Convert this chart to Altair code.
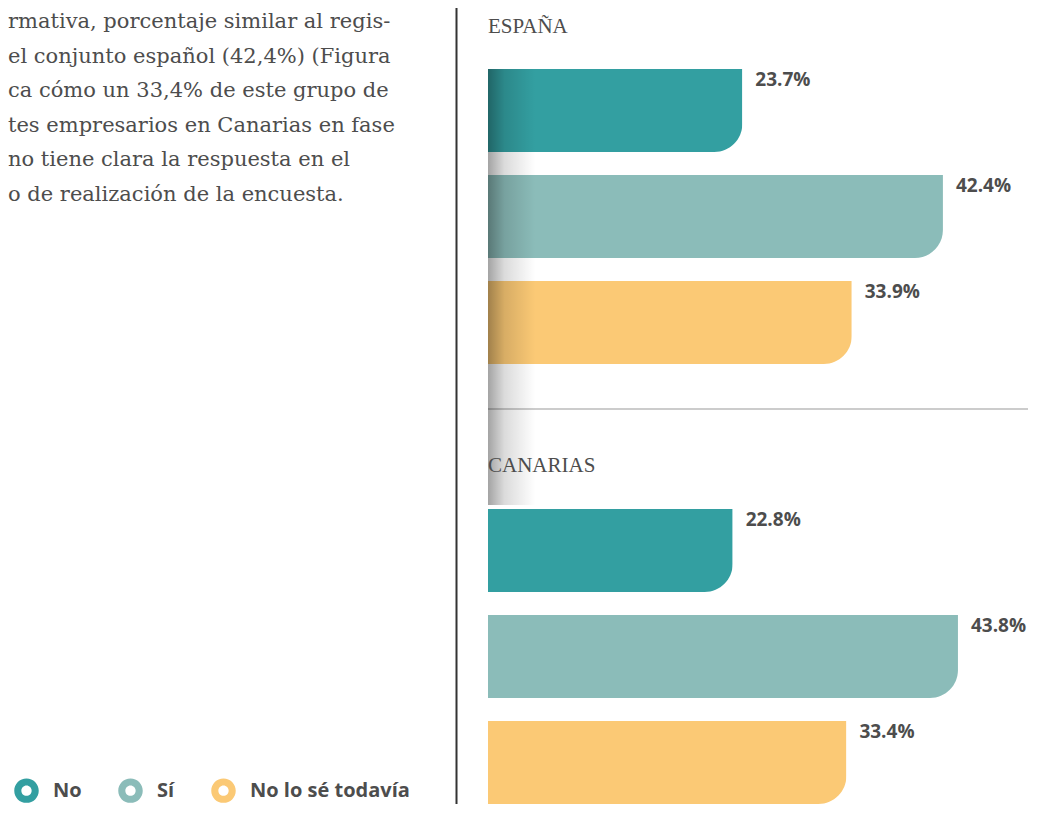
import altair as alt
import pandas as pd

# ---------------- data ----------------
REGIONS = ["ESPAÑA", "CANARIAS"]
CATEGORIES = ["No", "Sí", "No lo sé todavía"]
ESPANA = [23.7, 42.4, 33.9]
CANARIAS = [22.8, 43.8, 33.4]
COLORS = ["#339FA1", "#8BBCB9", "#FBC975"]
PARAGRAPH = [
    "rmativa, porcentaje similar al regis-",
    "el conjunto español (42,4%) (Figura",
    "ca cómo un 33,4% de este grupo de",
    "tes empresarios en Canarias en fase",
    "no tiene clara la respuesta en el",
    "o de realización de la encuesta.",
]

rows = []
for region, values in zip(REGIONS, [ESPANA, CANARIAS]):
    for cat, v in zip(CATEGORIES, values):
        rows.append({"region": region, "category": cat, "value": v,
                     "label": f"{v:.1f}%"})
df = pd.DataFrame(rows)
regions_df = pd.DataFrame({"region": REGIONS})

# ---------------- layout constants ----------------
W, H = 1020, 796
PX_PER_PCT = 10.73
X0 = 480
TEXT = "#4D4D4D"
RING = ("M-1,0A1,1,0,1,0,1,0A1,1,0,1,0,-1,0Z"
        "M-0.42,0A0.42,0.42,0,1,1,0.42,0A0.42,0.42,0,1,1,-0.42,0Z")

x_scale = alt.Scale(domain=[0, 50], range=[X0, X0 + 50 * PX_PER_PCT], nice=False, zero=True)
y_scale = alt.Scale(domain=REGIONS, range=[61, 796], paddingInner=0.3295, paddingOuter=0)
yo_scale = alt.Scale(domain=CATEGORIES, paddingInner=0.217, paddingOuter=0)
color_scale = alt.Scale(domain=CATEGORIES, range=COLORS)

base = alt.Chart(df)

bars = base.mark_bar(cornerRadiusBottomRight=28).encode(
    x=alt.X("value:Q", scale=x_scale, axis=None),
    y=alt.Y("region:N", scale=y_scale, axis=None),
    yOffset=alt.YOffset("category:N", scale=yo_scale, sort=CATEGORIES),
    color=alt.Color(
        "category:N", scale=color_scale, sort=CATEGORIES,
        legend=alt.Legend(
            title=None, orient="none", legendX=6, legendY=770,
            direction="horizontal", symbolType=RING, symbolSize=600,
            symbolStrokeWidth=0, symbolOpacity=1,
            labelFont="Open Sans", labelFontSize=20, labelFontWeight="bold",
            labelColor=TEXT, labelOffset=14, labelLimit=400,
            columnPadding=36, padding=0,
        ),
    ),
)

labels = base.mark_text(
    align="left", baseline="middle", dx=13, dy=-30.5,
    font="Open Sans", fontSize=19, fontWeight="bold", color=TEXT,
).encode(
    x=alt.X("value:Q", scale=x_scale),
    y=alt.Y("region:N", scale=y_scale),
    yOffset=alt.YOffset("category:N", scale=yo_scale, sort=CATEGORIES),
    text="label:N",
)

shadow = alt.Chart(pd.DataFrame({"x0": [0.0], "x1": [4.4]})).mark_rect(
    color=alt.Gradient(
        gradient="linear", x1=0, x2=1, y1=0, y2=0,
        stops=[
            alt.GradientStop(color="rgba(0,0,0,0.36)", offset=0),
            alt.GradientStop(color="rgba(0,0,0,0.14)", offset=0.35),
            alt.GradientStop(color="rgba(0,0,0,0)", offset=1),
        ],
    )
).encode(
    x=alt.X("x0:Q", scale=x_scale),
    x2="x1:Q",
    y=alt.value(61),
    y2=alt.value(497),
)

region_titles = alt.Chart(regions_df).mark_text(
    align="left", baseline="alphabetic", dy=-184,
    font="Liberation Serif", fontSize=21, color=TEXT,
).encode(
    x=alt.value(X0),
    y=alt.Y("region:N", scale=y_scale),
    text="region:N",
)

separator = alt.Chart(regions_df.head(1)).mark_rule(color="#BBBBBB", strokeWidth=1.5).encode(
    x=alt.value(X0), x2=alt.value(W), y=alt.value(401)
)

vline = alt.Chart(regions_df.head(1)).mark_rule(color="#333333", strokeWidth=2).encode(
    x=alt.value(448.5), y=alt.value(0), y2=alt.value(797)
)

paragraph = alt.Chart(regions_df.head(1)).mark_text(
    text=PARAGRAPH, align="left", baseline="alphabetic",
    font="DejaVu Serif", fontSize=21, lineHeight=34.6, color=TEXT,
).encode(x=alt.value(0), y=alt.value(20))

chart = alt.layer(
    paragraph, vline, separator, bars, shadow, labels, region_titles
).properties(
    width=W, height=H,
    autosize=alt.AutoSizeParams(type="none"),
    padding=0,
).configure_view(stroke=None)

chart.save("out.html", embed_options={"renderer": "svg", "actions": False})
